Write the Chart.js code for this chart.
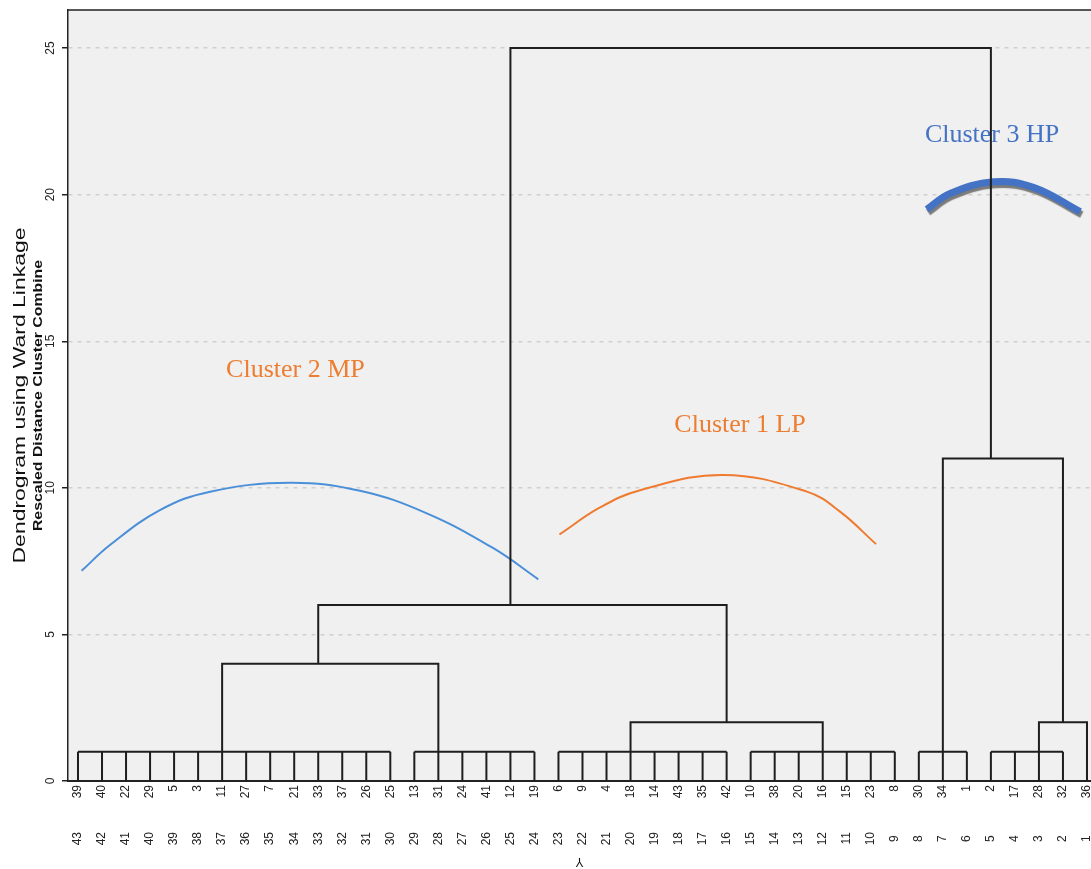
<!DOCTYPE html>
<html>
<head>
<meta charset="utf-8">
<title>Dendrogram using Ward Linkage</title>
<script src="https://cdn.jsdelivr.net/npm/chart.js@4.4.1/dist/chart.umd.min.js"></script>
<style>
  html, body { margin: 0; padding: 0; background: #fff; }
  #wrap { width: 1091px; height: 869px; position: relative; }
</style>
</head>
<body>
<div id="wrap"><canvas id="chart"></canvas></div>
<script>
// leaves left to right: case id (top row) and rank on the Y axis (bottom row)
const caseIds = [39, 40, 22, 29, 5, 3, 11, 27, 7, 21, 33, 37, 26, 25, 13, 31, 24, 41, 12, 19,
                 6, 9, 4, 18, 14, 43, 35, 42, 10, 38, 20, 16, 15, 23, 8, 30, 34, 1, 2, 17, 28, 32, 36];
const yRanks = [43, 42, 41, 40, 39, 38, 37, 36, 35, 34, 33, 32, 31, 30, 29, 28, 27, 26, 25, 24, 23, 22,
                21, 20, 19, 18, 17, 16, 15, 14, 13, 12, 11, 10, 9, 8, 7, 6, 5, 4, 3, 2, 1];
const distTicks = [0, 5, 10, 15, 20, 25];

// groups of leaves that combine at distance 1 (first and last rank of each group)
const groupStart = [43, 29, 23, 15, 8, 5];
const groupEnd = [30, 24, 16, 9, 6, 2];
const groupHeight = 1;

// higher merges: rank of left / right branch, height they come from, merge height
const mergeLeft = [37, 20, 33, 3, 7, 25];
const mergeRight = [28, 12, 16, 1, 2, 5];
const mergeLeftFrom = [1, 1, 4, 1, 1, 6];
const mergeRightFrom = [1, 1, 2, 0, 2, 11];
const mergeHeight = [4, 2, 6, 2, 11, 25];

// hand drawn arcs over the clusters
const mpArcX = [42.85, 41.67, 39.59, 37.5, 34.17, 31.26, 28.48, 25.71, 23.84];
const mpArcY = [7.17, 8.05, 9.24, 9.87, 10.17, 9.9, 9.13, 7.94, 6.88];
const lpArcX = [22.96, 21.27, 19.6, 16.13, 12.66, 11.28, 9.78];
const lpArcY = [8.41, 9.33, 9.92, 10.44, 9.87, 9.19, 8.08];
const hpArcX = [7.67, 6.7, 4.89, 3.23, 1.28];
const hpArcY = [19.5, 20.04, 20.44, 20.25, 19.42];

const clusterNames = ['Cluster 2 MP', 'Cluster 1 LP', 'Cluster 3 HP'];
const clusterX = [33.95, 15.44, 4.95];
const clusterY = [13.78, 11.92, 21.79];
const clusterColors = ['#ed7d31', '#ed7d31', '#4472c4'];

const xMin = 0.833, xMax = 43.416;

// dendrogram as broken polyline
let tree = [];
groupStart.forEach((a, i) => {
    const b = groupEnd[i];
    tree.push({x: a, y: groupHeight}, {x: b, y: groupHeight}, {x: null, y: null});
    for (let v = a; v >= b; v--) {
        tree.push({x: v, y: 0}, {x: v, y: groupHeight}, {x: null, y: null});
    }
});
mergeHeight.forEach((h, i) => {
    tree.push({x: mergeLeft[i], y: mergeLeftFrom[i]}, {x: mergeLeft[i], y: h},
              {x: mergeRight[i], y: h}, {x: mergeRight[i], y: mergeRightFrom[i]}, {x: null, y: null});
});

const toPoints = (xs, ys) => xs.map((x, i) => ({x: x, y: ys[i]}));

const tickFont = {family: '"Liberation Sans", Arial, sans-serif', size: 12};

const plotBg = {
    id: 'plotBg',
    beforeDraw(chart) {
        const {ctx, chartArea: a} = chart;
        ctx.save();
        ctx.fillStyle = '#ffffff';
        ctx.fillRect(0, 0, chart.width, chart.height);
        ctx.fillStyle = '#f0f0f0';
        ctx.fillRect(a.left, a.top, a.right - a.left, a.bottom - a.top);
        ctx.strokeStyle = '#222';
        ctx.lineWidth = 1.5;
        ctx.beginPath();
        ctx.moveTo(a.left, a.top);
        ctx.lineTo(a.right, a.top);
        ctx.stroke();
        ctx.restore();
    }
};

const clusterLabels = {
    id: 'clusterLabels',
    beforeDatasetsDraw(chart) {
        const {ctx, scales} = chart;
        ctx.save();
        ctx.font = '26px "Liberation Serif", "Times New Roman", serif';
        ctx.textAlign = 'center';
        ctx.textBaseline = 'alphabetic';
        clusterNames.forEach((t, i) => {
            ctx.fillStyle = clusterColors[i];
            ctx.fillText(t, scales.x.getPixelForValue(clusterX[i]), scales.y.getPixelForValue(clusterY[i]));
        });
        ctx.restore();
    },
    beforeDatasetDraw(chart, args) {
        if (chart.data.datasets[args.index].shadow) {
            const ctx = chart.ctx;
            ctx.save();
            ctx.shadowColor = 'rgba(110,110,110,0.9)';
            ctx.shadowOffsetX = 1.5;
            ctx.shadowOffsetY = 3;
            ctx.shadowBlur = 1;
        }
    },
    afterDatasetDraw(chart, args) {
        if (chart.data.datasets[args.index].shadow) chart.ctx.restore();
    }
};

const axisTitles = {
    id: 'axisTitles',
    afterDraw(chart) {
        const {ctx, chartArea: a} = chart;
        const cy = (a.top + a.bottom) / 2;
        ctx.save();
        ctx.fillStyle = '#111';
        ctx.textAlign = 'center';
        ctx.textBaseline = 'alphabetic';

        ctx.save();
        ctx.translate(24.5, cy);
        ctx.rotate(-Math.PI / 2);
        ctx.scale(1.35, 1);
        ctx.font = '17px "Liberation Sans", Arial, sans-serif';
        ctx.fillText('Dendrogram using Ward Linkage', 0, 0);
        ctx.restore();

        ctx.save();
        ctx.translate(41.5, cy);
        ctx.rotate(-Math.PI / 2);
        ctx.scale(1.32, 1);
        ctx.font = 'bold 12px "Liberation Sans", Arial, sans-serif';
        ctx.fillText('Rescaled Distance Cluster Combine', 0, 0);
        ctx.restore();

        ctx.translate((a.left + a.right) / 2, 861);
        ctx.rotate(Math.PI);
        ctx.textBaseline = 'middle';
        ctx.font = '12px "Liberation Sans", Arial, sans-serif';
        ctx.fillText('Y', 0, 0);
        ctx.restore();
    }
};

const rankTicks = s => { s.ticks = yRanks.map(v => ({value: v})); };

new Chart(document.getElementById('chart'), {
    type: 'scatter',
    data: {
        datasets: [{
            label: 'dendrogram',
            data: tree,
            showLine: true,
            borderColor: '#1e1e1e',
            borderWidth: 2,
            pointRadius: 0,
            tension: 0,
            spanGaps: false,
            order: 0
        }, {
            label: 'Cluster 2 MP',
            data: toPoints(mpArcX, mpArcY),
            showLine: true,
            borderColor: '#4a8fd8',
            borderWidth: 2,
            pointRadius: 0,
            tension: 0.4,
            order: 1
        }, {
            label: 'Cluster 1 LP',
            data: toPoints(lpArcX, lpArcY),
            showLine: true,
            borderColor: '#ee7b30',
            borderWidth: 2,
            pointRadius: 0,
            tension: 0.4,
            order: 1
        }, {
            label: 'Cluster 3 HP',
            data: toPoints(hpArcX, hpArcY),
            showLine: true,
            borderColor: '#4472c4',
            borderWidth: 7,
            pointRadius: 0,
            tension: 0.4,
            shadow: true,
            order: 1
        }]
    },
    options: {
        responsive: true,
        maintainAspectRatio: false,
        animation: false,
        events: [],
        layout: {padding: {top: 10, right: 0, bottom: 0, left: 0}},
        plugins: {legend: {display: false}, tooltip: {enabled: false}},
        scales: {
            x: {
                type: 'linear', reverse: true, min: xMin, max: xMax, position: 'bottom', weight: 0,
                afterBuildTicks: rankTicks,
                afterFit: s => { s.height = 30; s.paddingLeft = 0; s.paddingRight = 0; },
                grid: {display: false, drawTicks: false},
                border: {display: true, color: '#222', width: 2},
                ticks: {
                    autoSkip: false, minRotation: 90, maxRotation: 90, padding: 4,
                    font: tickFont, color: '#222',
                    callback: v => String(caseIds[yRanks.indexOf(v)])
                }
            },
            x2: {
                type: 'linear', reverse: true, min: xMin, max: xMax, position: 'bottom', weight: 1,
                afterBuildTicks: rankTicks,
                afterFit: s => { s.height = 58; s.paddingLeft = 0; s.paddingRight = 0; },
                grid: {display: false, drawTicks: false},
                border: {display: false},
                ticks: {
                    autoSkip: false, minRotation: 90, maxRotation: 90, padding: 21,
                    font: tickFont, color: '#222',
                    callback: v => (v < 10 ? v + ' ' : String(v))
                }
            },
            y: {
                type: 'linear', min: 0, max: 26.3, position: 'left',
                afterBuildTicks: s => { s.ticks = distTicks.map(v => ({value: v})); },
                afterFit: s => { s.width = 68; s.paddingTop = 0; s.paddingBottom = 0; },
                grid: {
                    color: c => (c.tick && c.tick.value === 0 ? 'rgba(0,0,0,0)' : '#cfcfcf'),
                    lineWidth: 1.5,
                    drawTicks: true, tickLength: 6, tickColor: '#222', tickWidth: 1.5
                },
                border: {display: true, color: '#222', width: 1.5, dash: [4, 5]},
                ticks: {
                    minRotation: 90, maxRotation: 90, crossAlign: 'center', padding: 5,
                    font: tickFont, color: '#222'
                }
            }
        }
    },
    plugins: [plotBg, clusterLabels, axisTitles]
});
</script>
</body>
</html>
